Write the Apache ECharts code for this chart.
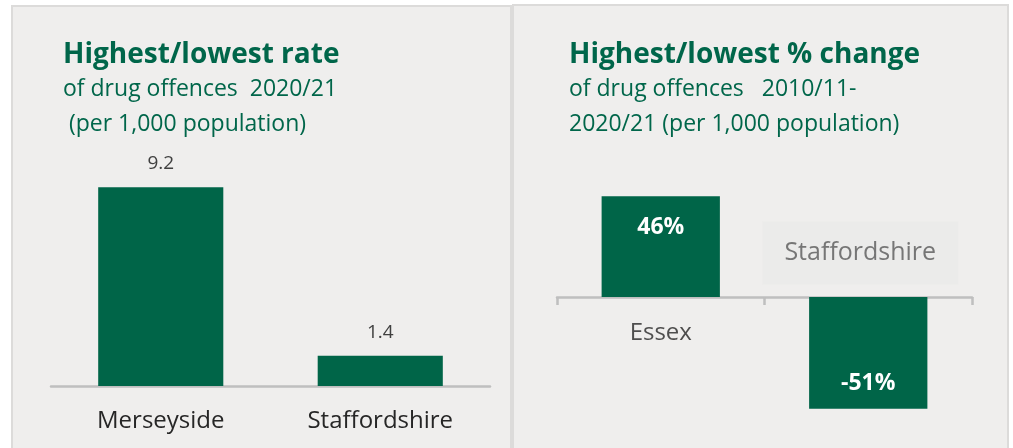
<!DOCTYPE html>
<html>
<head>
<meta charset="utf-8">
<script src="https://cdn.jsdelivr.net/npm/echarts@6/dist/echarts.min.js"></script>
<style>
  html, body { margin: 0; padding: 0; background: #ffffff; }
  #chart { width: 1013px; height: 448px; }
</style>
</head>
<body>
<div id="chart"></div>
<script>
// Drug offence rates 2020/21 (per 1,000 population)
const rateCategories = ['Merseyside', 'Staffordshire'];
const rateValues = [9.2, 1.4];

// % change in drug offence rate 2010/11 - 2020/21
const changeCategories = ['Essex', 'Staffordshire'];
const changeValues = [46, -51];

const GREEN = '#006548';
const TITLE_GREEN = '#00664a';
const AXIS_GREY = '#bfbfbf';
const FONT = '"Open Sans", "Noto Sans", sans-serif';

const chart = echarts.init(document.getElementById('chart'), null, { renderer: 'canvas' });

const titleStyle = { color: TITLE_GREEN, fontSize: 28, fontWeight: 'bold', fontFamily: FONT, lineHeight: 30 };
const subStyle = { color: TITLE_GREEN, fontSize: 23, fontFamily: FONT, lineHeight: 35 };

chart.setOption({
  backgroundColor: '#ffffff',
  animation: false,
  graphic: [
    { type: 'rect', z: -10, shape: { x: 12, y: 6, width: 499, height: 460 },
      style: { fill: '#efeeed', stroke: '#dcdbda', lineWidth: 2 } },
    { type: 'rect', z: -10, shape: { x: 513, y: 5, width: 495, height: 460 },
      style: { fill: '#efeeed', stroke: '#dcdbda', lineWidth: 2 } }
  ],
  title: [
    { left: 58, top: 35, itemGap: 2,
      text: 'Highest/lowest rate',
      subtext: 'of drug offences  2020/21\n (per 1,000 population)',
      textStyle: titleStyle, subtextStyle: subStyle },
    { left: 564, top: 35, itemGap: 2,
      text: 'Highest/lowest % change',
      subtext: 'of drug offences   2010/11-\n2020/21 (per 1,000 population)',
      textStyle: titleStyle, subtextStyle: subStyle }
  ],
  grid: [
    { left: 51, width: 439, top: 170, height: 216, outerBoundsMode: 'none' },
    { left: 557, width: 415, top: 165.5, height: 263, outerBoundsMode: 'none' }
  ],
  xAxis: [
    { type: 'category', gridIndex: 0, data: rateCategories, position: 'bottom',
      axisLine: { lineStyle: { color: AXIS_GREY, width: 2.5 } },
      axisTick: { show: false },
      axisLabel: { color: '#262626', fontSize: 24, fontFamily: FONT, margin: 23 } },
    // zero line with band ticks; category names are drawn by the anchor series below
    { type: 'category', gridIndex: 1, data: changeCategories, position: 'bottom',
      axisLine: { onZero: true, onZeroAxisIndex: 1, lineStyle: { color: AXIS_GREY, width: 2.5 } },
      axisTick: { show: true, length: 8, lineStyle: { color: AXIS_GREY, width: 2.5 } },
      axisLabel: { show: false } }
  ],
  yAxis: [
    { type: 'value', gridIndex: 0, min: 0, max: 10, show: false, splitLine: { show: false } },
    { type: 'value', gridIndex: 1, min: -60, max: 60, show: false, splitLine: { show: false } }
  ],
  series: [
    { type: 'bar', xAxisIndex: 0, yAxisIndex: 0, data: rateValues, barWidth: '57%',
      itemStyle: { color: GREEN },
      label: { show: true, position: 'top', distance: 14, color: '#404040', fontSize: 19, fontFamily: FONT } },
    { type: 'bar', xAxisIndex: 1, yAxisIndex: 1, barWidth: '57%',
      itemStyle: { color: GREEN },
      data: changeValues.map(v => ({
        value: v,
        label: v >= 0 ? { position: 'insideTop', distance: 20 } : { position: 'insideBottom', distance: 14 }
      })),
      label: { show: true, color: '#ffffff', fontSize: 23, fontWeight: 'bold',
        fontFamily: FONT, formatter: p => p.value + '%' } },
    // category names anchored on the zero line: below it for rises, boxed above it for falls
    { type: 'scatter', xAxisIndex: 1, yAxisIndex: 1, symbolSize: 0, silent: true, z: 5,
      data: changeCategories.map((c, i) => ({
        value: [c, 0],
        label: changeValues[i] >= 0
          ? { position: 'bottom', distance: 23, formatter: '{name|{b}}' }
          : { position: 'top', distance: 16, offset: [-8, -17], formatter: '{box|{b}}' }
      })),
      label: { show: true,
        rich: {
          name: { color: '#262626', fontSize: 24, fontFamily: FONT, lineHeight: 26 },
          box: { color: '#595959', fontSize: 25, fontFamily: FONT, lineHeight: 22,
            backgroundColor: '#eaeae9', padding: [19, 22, 19, 22] }
        } } }
  ]
});
</script>
</body>
</html>
